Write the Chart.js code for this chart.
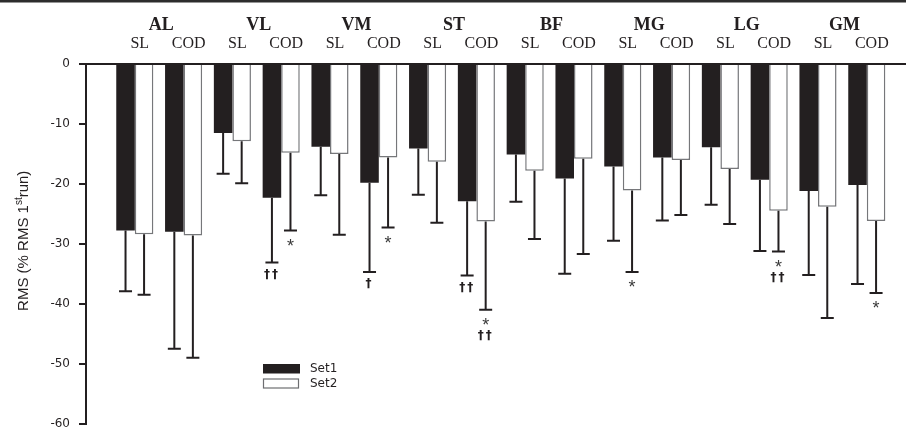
<!DOCTYPE html>
<html><head><meta charset="utf-8">
<script src="https://cdn.jsdelivr.net/npm/chart.js@4.4.1/dist/chart.umd.min.js"></script>
<style>html,body{margin:0;padding:0;background:#fff;}canvas{display:block;}</style>
</head><body>
<canvas id="c" width="906" height="429"></canvas>
<script>
// ---- data ----
const muscles = ['AL','VL','VM','ST','BF','MG','LG','GM'];
const conditions = ['SL','COD'];
const categories = muscles.flatMap(() => conditions);
const seriesNames = ['Set1','Set2'];
const set1Mean = [-27.8,-28.0,-11.5,-22.3,-13.8,-19.8,-14.1,-22.9,-15.1,-19.1,-17.1,-15.6,-13.9,-19.3,-21.2,-20.2];
const set1SD   = [10.1,19.5,6.8,10.8,8.1,14.9,7.7,12.4,7.9,15.9,12.4,10.5,9.6,11.9,14.0,16.5];
const set2Mean = [-28.4,-28.6,-12.9,-14.8,-15.0,-15.6,-16.3,-26.3,-17.8,-15.8,-21.1,-16.0,-17.5,-24.5,-23.8,-26.2];
const set2SD   = [10.1,20.4,7.0,13.0,13.5,11.7,10.2,14.7,11.4,15.9,13.6,9.2,9.2,6.8,18.6,12.0];
const set1Marks = ['','','','††','','†','','††','','','','','','','',''];
const set2Marks = ['','','','*','','*','','*\n††','','','*','','','*\n††','','*'];
const yMin = -60, yMax = 0, yStep = 10;
const yTitle = ['RMS (% RMS 1','st','run)'];

const INK = '#231f20';
const W = 906;

function toPoints(arr){ return arr.map((v,i)=>({x:i+1,y:v})); }

const topLine = {
  id:'topLine',
  beforeDraw(chart){
    const ctx = chart.ctx;
    ctx.save();
    ctx.fillStyle = '#fff'; ctx.fillRect(0,0,chart.width,chart.height);
    ctx.fillStyle = '#2d2d2d'; ctx.fillRect(0,0,chart.width,2.5);
    ctx.restore();
  }
};

function drawMark(ctx, text, font, cx, cy, color, spacing){
  ctx.font = font;
  ctx.fillStyle = color;
  ctx.letterSpacing = spacing || '0px';
  const m = ctx.measureText(text);
  const a = m.actualBoundingBoxAscent, d = m.actualBoundingBoxDescent;
  ctx.textAlign = 'center';
  ctx.textBaseline = 'alphabetic';
  ctx.fillText(text, cx, cy + (a - d)/2);
  ctx.letterSpacing = '0px';
}

const errorBars = {
  id:'errorBars',
  afterDatasetsDraw(chart){
    const ctx = chart.ctx, ys = chart.scales.y;
    chart.data.datasets.forEach((ds, di) => {
      const meta = chart.getDatasetMeta(di);
      meta.data.forEach((bar, i) => {
        const mean = ds.data[i].y, sd = ds.sd[i];
        const yEnd = ys.getPixelForValue(mean - sd);
        ctx.save();
        ctx.strokeStyle = INK; ctx.lineWidth = 2;
        ctx.beginPath();
        ctx.moveTo(bar.x, bar.y); ctx.lineTo(bar.x, yEnd);
        ctx.moveTo(bar.x - 6.5, yEnd); ctx.lineTo(bar.x + 6.5, yEnd);
        ctx.stroke();
        const mk = ds.marks[i];
        if (mk) {
          mk.split('\n').forEach((line, j) => {
            const cy = yEnd + 12 + j*14;
            if (line.includes('*')) drawMark(ctx, line, '18px "Liberation Sans"', bar.x, cy, '#3a3a3a');
            else drawMark(ctx, line, 'bold 12px "DejaVu Sans"', bar.x, cy, INK, '2px');
          });
        }
        ctx.restore();
      });
    });
  }
};

const annotations = {
  id:'annotations',
  afterDraw(chart){
    const ctx = chart.ctx, xs = chart.scales.x, area = chart.chartArea;
    ctx.save();
    // muscle names
    ctx.font = 'bold 18px "Liberation Serif"';
    ctx.fillStyle = INK; ctx.textAlign = 'center'; ctx.textBaseline = 'alphabetic';
    muscles.forEach((m, k) => {
      const x = (xs.getPixelForValue(2*k+1) + xs.getPixelForValue(2*k+2))/2 + 2;
      ctx.fillText(m, x, 30);
    });
    // y title
    ctx.save();
    ctx.translate(28, (area.top + area.bottom)/2 - 3);
    ctx.rotate(-Math.PI/2);
    const fMain = '15px "Liberation Sans"', fSup = '10px "Liberation Sans"';
    ctx.textAlign = 'left';
    ctx.font = fMain; const w0 = ctx.measureText(yTitle[0]).width, w2 = ctx.measureText(yTitle[2]).width;
    ctx.font = fSup; const w1 = ctx.measureText(yTitle[1]).width;
    let x = -(w0 + w1 + w2)/2;
    ctx.fillStyle = INK;
    ctx.font = fMain; ctx.fillText(yTitle[0], x, 0); x += w0;
    ctx.font = fSup; ctx.fillText(yTitle[1], x, -6); x += w1;
    ctx.font = fMain; ctx.fillText(yTitle[2], x, 0);
    ctx.restore();
    // legend
    const lx = area.left + 177, ly = 364;
    const ds = chart.data.datasets;
    ds.forEach((d, i) => {
      const y = ly + i*14.5;
      if (i === 0) { ctx.fillStyle = d.backgroundColor; ctx.fillRect(lx, y, 37, 9.5); }
      else { ctx.fillStyle = '#fff'; ctx.fillRect(lx, y, 36, 9.5); ctx.strokeStyle = '#6d6e71'; ctx.lineWidth = 1.2; ctx.strokeRect(lx+0.5, y+0.5, 35, 9); }
      ctx.fillStyle = INK; ctx.font = '12px "DejaVu Sans"'; ctx.textAlign = 'left'; ctx.textBaseline = 'middle';
      ctx.fillText(d.label, lx + 47, y + 5);
    });
    ctx.restore();
  }
};

new Chart(document.getElementById('c'), {
  type: 'bar',
  data: {
    datasets: [
      { label: seriesNames[0], data: toPoints(set1Mean), sd: set1SD, marks: set1Marks,
        backgroundColor: INK, borderWidth: 0 },
      { label: seriesNames[1], data: toPoints(set2Mean), sd: set2SD, marks: set2Marks,
        backgroundColor: '#ffffff', borderColor: '#76777a', borderWidth: 1.5 }
    ]
  },
  options: {
    responsive: false,
    animation: false,
    events: [],
    layout: { padding: { top: 0, left: 0, right: 0, bottom: 5.4 } },
    datasets: { bar: { categoryPercentage: 0.76, barPercentage: 1.0 } },
    plugins: { legend: { display: false }, tooltip: { enabled: false } },
    scales: {
      x: {
        type: 'linear', position: 'top', offset: false, min: 0, max: (W - 86) / 48.8, z: 1,
        grid: { display: true, drawOnChartArea: false, drawTicks: false, offset: false },
        border: { display: true, color: INK, width: 2 },
        ticks: {
          stepSize: 1, includeBounds: false, autoSkip: false, maxRotation: 0, minRotation: 0, maxTicksLimit: 100,
          padding: 11, labelOffset: 5, color: INK,
          font: { family: 'Liberation Serif', size: 16 },
          callback: v => (Number.isInteger(v) && v >= 1 && v <= categories.length) ? categories[v-1] : ''
        },
        afterFit: s => { s.height = 64; s.paddingLeft = 0; s.paddingRight = 0; }
      },
      y: {
        min: yMin, max: yMax,
        grid: { display: true, drawOnChartArea: false, drawTicks: true, tickLength: 7, color: INK, lineWidth: 2 },
        border: { display: true, color: INK, width: 2 },
        ticks: { stepSize: yStep, padding: 9, color: INK, font: { family: 'DejaVu Sans', size: 12 } },
        afterFit: s => { s.width = 86; s.paddingTop = 0; s.paddingBottom = 0; }
      }
    }
  },
  plugins: [topLine, errorBars, annotations]
});
</script>
</body></html>
